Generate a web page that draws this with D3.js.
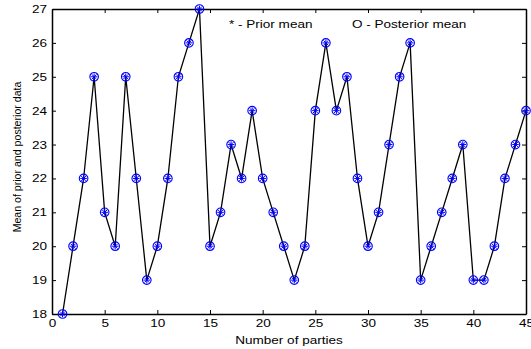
<!DOCTYPE html>
<html>
<head>
<meta charset="utf-8">
<script src="https://cdn.jsdelivr.net/npm/d3@7"></script>
<style>
  body { margin: 0; background: #fff; }
  text { font-family: "Liberation Sans", Arial, sans-serif; }
</style>
</head>
<body>
<svg id="chart" width="531" height="349"></svg>
<script>
// number of parties (x) and mean values (prior == posterior)
const parties = d3.range(1, 46);
const meanValues = [18, 20, 22, 25, 21, 20, 25, 22, 19, 20, 22, 25, 26, 27, 20,
  21, 23, 22, 24, 22, 21, 20, 19, 20, 24, 26, 24, 25, 22, 20,
  21, 23, 25, 26, 19, 20, 21, 22, 23, 19, 19, 20, 22, 23, 24];
const xTicks = [0, 5, 10, 15, 20, 25, 30, 35, 40, 45];
const yTicks = [18, 19, 20, 21, 22, 23, 24, 25, 26, 27];

const svg = d3.select("#chart");
const m = { left: 52, right: 5, top: 9, bottom: 35 };
const W = 531, H = 349;
const SX = 1.23; // text in the reference is stretched horizontally
const fs = "11px";

const x = d3.scaleLinear().domain([0, 45]).range([m.left, W - m.right]);
const y = d3.scaleLinear().domain([18, 27]).range([H - m.bottom, m.top]);

const data = parties.map((p, i) => ({ x: p, y: meanValues[i] }));

// axes (box with inward ticks)
const gx = svg.append("g").attr("transform", `translate(0,${y(18)})`)
  .call(d3.axisBottom(x).tickValues(xTicks).tickSizeInner(-4).tickSizeOuter(0).tickPadding(5));
const gxTop = svg.append("g").attr("transform", `translate(0,${y(27)})`)
  .call(d3.axisTop(x).tickValues(xTicks).tickSizeInner(-4).tickSizeOuter(0).tickFormat(""));
const gy = svg.append("g").attr("transform", `translate(${x(0)},0)`)
  .call(d3.axisLeft(y).tickValues(yTicks).tickSizeInner(-4).tickSizeOuter(0).tickPadding(5));
const gyRight = svg.append("g").attr("transform", `translate(${x(45)},0)`)
  .call(d3.axisRight(y).tickValues(yTicks).tickSizeInner(-4).tickSizeOuter(0).tickFormat(""));

[gx, gxTop, gy, gyRight].forEach(g => {
  g.select(".domain").attr("stroke", "#000").attr("stroke-width", 1.5);
  g.selectAll(".tick line").attr("stroke", "#000");
  g.selectAll("text").attr("font-size", fs).attr("fill", "#000")
    .style("font-family", "'Liberation Sans', Arial, sans-serif");
});
gx.selectAll(".tick text").attr("transform", `scale(${SX},1)`);
gy.selectAll(".tick text")
  .attr("x", -5 / SX)
  .attr("transform", `scale(${SX},1)`);

// line
const line = d3.line().x(d => x(d.x)).y(d => y(d.y));
svg.append("path").datum(data)
  .attr("d", line)
  .attr("fill", "none")
  .attr("stroke", "#000")
  .attr("stroke-width", 1.3);

// markers: circle (posterior) + star (prior)
const mk = svg.append("g").selectAll("g").data(data).enter().append("g")
  .attr("transform", d => `translate(${x(d.x)},${y(d.y)})`);
mk.append("circle").attr("r", 4.3).attr("fill", "none")
  .attr("stroke", "#0000ff").attr("stroke-width", 1.1);
const s = 3.3, sd = 2.4;
mk.append("path")
  .attr("d", `M${-s},0H${s}M0,${-s}V${s}M${-sd},${-sd}L${sd},${sd}M${-sd},${sd}L${sd},${-sd}`)
  .attr("stroke", "#0000ff").attr("stroke-width", 1);

// legend texts
svg.append("text").attr("transform", `translate(229,28) scale(${SX},1)`)
  .attr("font-size", fs).text("* - Prior mean");
svg.append("text").attr("transform", `translate(352,28) scale(${SX},1)`)
  .attr("font-size", fs).text("O - Posterior mean");

// axis labels
svg.append("text")
  .attr("transform", `translate(${(x(0) + x(45)) / 2},344) scale(${SX},1)`)
  .attr("text-anchor", "middle").attr("font-size", fs)
  .text("Number of parties");
svg.append("text")
  .attr("transform", `translate(21,157) rotate(-90) scale(1.06,1)`)
  .attr("text-anchor", "middle").attr("font-size", "10px")
  .text("Mean of prior and posterior data");
</script>
</body>
</html>
